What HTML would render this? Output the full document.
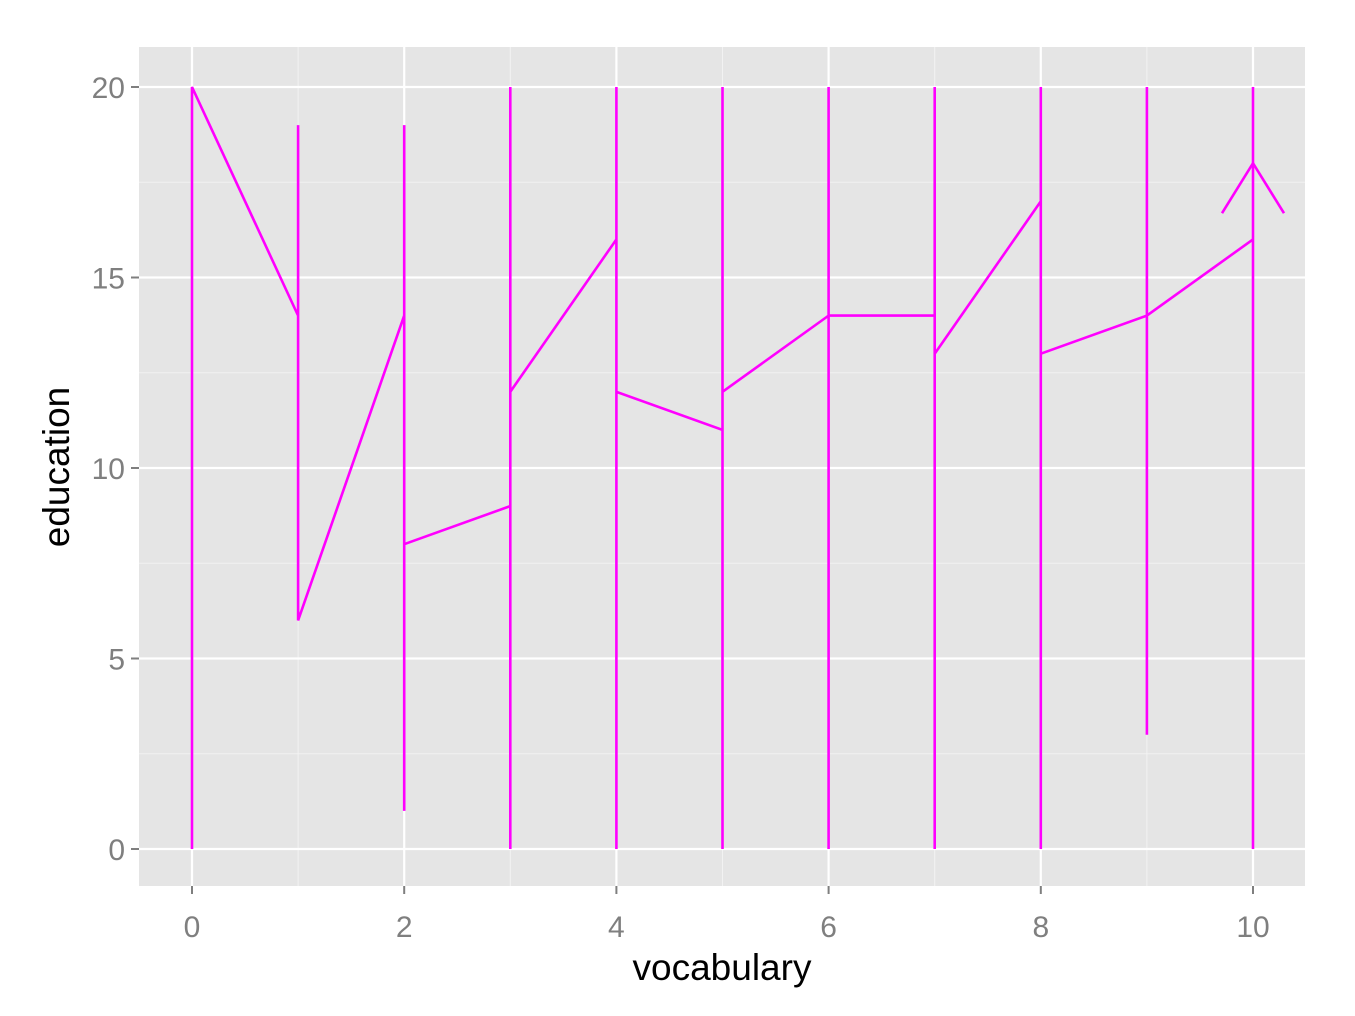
<!DOCTYPE html>
<html><head><meta charset="utf-8"><style>
body{margin:0;background:#fff;}
svg{display:block;font-family:"Liberation Sans",sans-serif;}
</style></head><body>
<svg id="chart" width="1355" height="1016"></svg>
<script>
const xCats=[0,1,2,3,4,5,6,7,8,9,10];
const yEntry=[0,14,14,9,16,11,14,14,17,14,16];
const yLow=[0,6,1,0,0,0,0,0,0,3,0];
const yHigh=[20,19,19,20,20,20,20,20,20,20,20];
const yExit=[20,6,8,12,12,12,14,13,13,14,18];
const xTicks=[0,2,4,6,8,10];
const yTicks=[0,5,10,15,20];
const NS="http://www.w3.org/2000/svg";
const svg=document.getElementById('chart');
const L=139,R=1305,T=47,B=886;
const sx=v=>192+v*106.1;
const sy=v=>849-v*38.1;
function el(t,a,p){const e=document.createElementNS(NS,t);for(const k in a)e.setAttribute(k,a[k]);(p||svg).appendChild(e);return e;}
const panel=el('rect',{x:L,y:T,width:R-L,height:B-T,fill:'#e5e5e5'});


for(let v=-1;v<=11;v+=2){if(sx(v)>L&&sx(v)<R){const g=el('line',{x1:sx(v),x2:sx(v),y1:T,y2:B,stroke:'#f2f2f2','stroke-width':1});}}
for(let v=2.5;v<=22.5;v+=5){if(sy(v)>T){const g=el('line',{x1:L,x2:R,y1:sy(v),y2:sy(v),stroke:'#f2f2f2','stroke-width':1});}}
xTicks.forEach(v=>{const g=el('line',{x1:sx(v),x2:sx(v),y1:T,y2:B,stroke:'#fff','stroke-width':2.2});
const t=el('line',{x1:sx(v),x2:sx(v),y1:B,y2:B+8,stroke:'#7f7f7f','stroke-width':2});
const l=el('text',{x:sx(v),y:937,'text-anchor':'middle','font-size':30,fill:'#7f7f7f'});l.textContent=v;});
yTicks.forEach(v=>{const g=el('line',{x1:L,x2:R,y1:sy(v),y2:sy(v),stroke:'#fff','stroke-width':2.2});
const t=el('line',{x1:L-8,x2:L,y1:sy(v),y2:sy(v),stroke:'#7f7f7f','stroke-width':2});
const l=el('text',{x:L-14,y:sy(v)+11,'text-anchor':'end','font-size':30,fill:'#7f7f7f'});l.textContent=v;});
let pts=[];
xCats.forEach((x,i)=>{pts.push([sx(x),sy(yEntry[i])],[sx(x),sy(yLow[i])],[sx(x),sy(yHigh[i])],[sx(x),sy(yExit[i])]);});
const path=el('polyline',{points:pts.map(p=>p.join(',')).join(' '),fill:'none',stroke:'#ff00ff','stroke-width':2.6,'stroke-linejoin':'miter'});


const lx=sx(xCats[xCats.length-1]),ly=sy(yExit[yExit.length-1]);
const arr=el('polyline',{points:`${lx-31},${ly+50} ${lx},${ly} ${lx+31},${ly+50}`,fill:'none',stroke:'#ff00ff','stroke-width':2.6});


const xt=el('text',{x:722,y:980,'text-anchor':'middle','font-size':37,fill:'#000'});xt.textContent='vocabulary';


const yt=el('text',{x:0,y:0,'text-anchor':'middle','font-size':37,fill:'#000',transform:'translate(69,467) rotate(-90)'});yt.textContent='education';


</script>
</body></html>
